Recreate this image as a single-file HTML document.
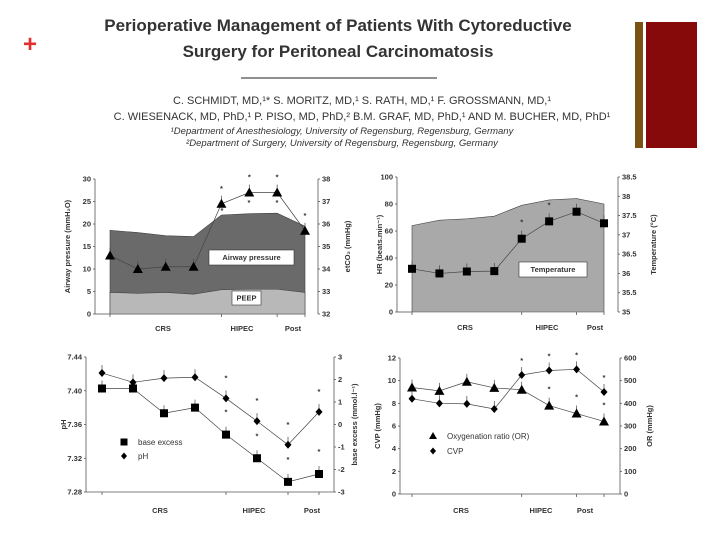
<!DOCTYPE html>
<html><head><meta charset="utf-8"><style>
body{margin:0;background:#fff}
svg{display:block}
text{font-family:"Liberation Sans",sans-serif}
.t{font-size:7.5px;font-weight:bold;fill:#333}
.ax{stroke:#555;stroke-width:0.8;fill:none}
</style></head><body>
<svg id="s" width="720" height="540" viewBox="0 0 720 540">
<rect width="720" height="540" fill="#fff"/>
<text x="30" y="52" font-size="24" font-weight="bold" fill="#e03030" text-anchor="middle">+</text>
<rect x="635" y="22" width="8" height="126" fill="#7a5312"/>
<rect x="646" y="22" width="51" height="126" fill="#870a0a"/>
<g font-size="17" fill="#333" text-anchor="middle" style="font-weight:bold">
<text x="338" y="31">Perioperative Management of Patients With Cytoreductive</text>
<text x="338" y="57">Surgery for Peritoneal Carcinomatosis</text></g>
<line x1="241" y1="78" x2="437" y2="78" stroke="#222" stroke-width="1"/>
<g font-size="11" fill="#333" text-anchor="middle">
<text x="362" y="104">C. SCHMIDT, MD,¹* S. MORITZ, MD,¹ S. RATH, MD,¹ F. GROSSMANN, MD,¹</text>
<text x="362" y="120">C. WIESENACK, MD, PhD,¹ P. PISO, MD, PhD,² B.M. GRAF, MD, PhD,¹ AND M. BUCHER, MD, PhD¹</text>
<text x="342" y="134" font-size="9.5" font-style="italic">¹Department of Anesthesiology, University of Regensburg, Regensburg, Germany</text>
<text x="342" y="146" font-size="9.5" font-style="italic">²Department of Surgery, University of Regensburg, Regensburg, Germany</text></g>
<g id="charts"></g>
</svg>
<script>
// Panel 1
const p1Airway=[18.6,18.1,17.4,17.2,22,22.3,22.4,19.5];
const p1Peep=[4.8,4.6,4.8,4.4,5.4,5.5,5.5,4.8];
const p1Etco2=[34.6,34.0,34.1,34.1,36.9,37.4,37.4,35.7];
const p1LeftTicks=[0,5,10,15,20,25,30];
const p1RightTicks=[32,33,34,35,36,37,38];
// Panel 2
const p2HR=[64,68,69,71,79,83,84,80];
const p2Temp=[36.12,36.0,36.05,36.06,36.9,37.35,37.6,37.3];
const p2LeftTicks=[0,20,40,60,80,100];
const p2RightTicks=[35,35.5,36,36.5,37,37.5,38,38.5];
// Panel 3
const p3PH=[7.421,7.410,7.415,7.416,7.391,7.364,7.336,7.375];
const p3BE=[1.6,1.6,0.5,0.75,-0.45,-1.5,-2.55,-2.2];
const p3LeftTicks=[7.28,7.32,7.36,7.40,7.44];
const p3RightTicks=[-3,-2,-1,0,1,2,3];
// Panel 4
const p4CVP=[8.4,8.0,7.95,7.5,10.5,10.9,11.0,9.0];
const p4OR=[470,455,495,468,460,390,355,320];
const p4LeftTicks=[0,2,4,6,8,10,12];
const p4RightTicks=[0,100,200,300,400,500,600];
const categories=["CRS","HIPEC","Post"];

const NS="http://www.w3.org/2000/svg";
const root=document.getElementById('charts');
function mk(tag,attrs,parent,txt){const e=document.createElementNS(NS,tag);for(const k in attrs)e.setAttribute(k,attrs[k]);if(txt!==undefined)e.textContent=txt;(parent||root).appendChild(e);return e;}
function lin(d0,d1,r0,r1){return v=>r0+(v-d0)*(r1-r0)/(d1-d0);}

function panel(o){
  const g=mk('g',{});
  
  
  const x=i=>o.x0+i*(o.x1-o.x0)/7;
  const yl=lin(o.lt[0],o.lt[o.lt.length-1],o.yb,o.yt);
  const yr=lin(o.rt[0],o.rt[o.rt.length-1],o.yb,o.yt);
  (o.areas||[]).forEach(a=>{
    let d='M'+x(0)+','+o.yb;a.vals.forEach((v,i)=>d+=' L'+x(i)+','+yl(v));d+=' L'+x(7)+','+o.yb+'Z';
    const p=mk('path',{d:d,fill:a.fill,stroke:'#444','stroke-width':0.6},g);
    
    
  });
  const la=mk('line',{x1:o.la,y1:o.yt,x2:o.la,y2:o.yb,class:'ax'},g);
  
  const ra=mk('line',{x1:o.ra,y1:o.yt,x2:o.ra,y2:o.yb,class:'ax'},g);
  
  mk('line',{x1:o.la,y1:o.yb,x2:o.bottomFull?o.ra:x(0),y2:o.yb,class:'ax'},g);
  [0,4,6,7].forEach(i=>mk('line',{x1:x(i),y1:o.yb,x2:x(i),y2:o.yb+3,class:'ax'},g));
  o.lt.forEach(v=>{mk('line',{x1:o.la-2,y1:yl(v),x2:o.la,y2:yl(v),class:'ax'},g);
    const t=mk('text',{x:o.la-4,y:yl(v)+2.5,class:'t','text-anchor':'end'},g,o.lf?o.lf(v):v);
    });
  o.rt.forEach(v=>{mk('line',{x1:o.ra,y1:yr(v),x2:o.ra+2,y2:yr(v),class:'ax'},g);
    const t=mk('text',{x:o.ra+4,y:yr(v)+2.5,class:'t'},g,v);
    });
  categories.forEach((c,i)=>{const t=mk('text',{x:o.cx[i],y:o.cy,class:'t','text-anchor':'middle'},g,c);
    });
  const lt=mk('text',{x:0,y:0,class:'t','text-anchor':'middle',transform:`translate(${o.ltx},${(o.yt+o.yb)/2}) rotate(-90)`},g,o.ltitle);
  
  const rtt=mk('text',{x:0,y:0,class:'t','text-anchor':'middle',transform:`translate(${o.rtx},${(o.yt+o.yb)/2}) rotate(-90)`},g,o.rtitle);
  
  o.series.forEach(s=>{
    const sy=s.axis==='r'?yr:yl;
    const pts=s.vals.map((v,i)=>x(i)+','+sy(v)).join(' ');
    const pl=mk('polyline',{points:pts,fill:'none',stroke:'#444','stroke-width':0.7},g);
    
    s.vals.forEach((v,i)=>{
      const cx=x(i),cy=sy(v);
      mk('line',{x1:cx,y1:cy,x2:cx,y2:cy-8,stroke:'#444','stroke-width':0.7},g);
      let m;
      if(s.mark==='sq')m=mk('rect',{x:cx-4,y:cy-4,width:8,height:8,fill:'#000'},g);
      else if(s.mark==='tri')m=mk('polygon',{points:`${cx},${cy-5} ${cx+5},${cy+4} ${cx-5},${cy+4}`,fill:'#000'},g);
      else m=mk('polygon',{points:`${cx},${cy-4} ${cx+3.5},${cy} ${cx},${cy+4} ${cx-3.5},${cy}`,fill:'#000'},g);
      
      
    });
    (s.stars||[]).forEach(i=>{const st=mk('text',{x:x(i),y:sy(s.vals[i])+(s.starOff||-12),class:'t','text-anchor':'middle','font-size':9},g,'*');
      });
  });
  (o.boxes||[]).forEach(b=>{
    const r=mk('rect',{x:b.x,y:b.y,width:b.w,height:b.h,fill:'#fff',stroke:'#333','stroke-width':0.6},g);
    
    mk('text',{x:b.x+b.w/2,y:b.y+b.h/2+2.5,class:'t','text-anchor':'middle'},g,b.text);
  });
  (o.legend||[]).forEach(l=>{
    const lg=mk('g',{},g);
    
    const cx=l.x,cy=l.y;
    if(l.mark==='sq')mk('rect',{x:cx-3.5,y:cy-3.5,width:7,height:7,fill:'#000'},lg);
    else if(l.mark==='tri')mk('polygon',{points:`${cx},${cy-4} ${cx+4},${cy+3} ${cx-4},${cy+3}`,fill:'#000'},lg);
    else mk('polygon',{points:`${cx},${cy-3.5} ${cx+3},${cy} ${cx},${cy+3.5} ${cx-3},${cy}`,fill:'#000'},lg);
    mk('text',{x:cx+14,y:cy+3,'font-size':8,fill:'#333'},lg,l.text);
  });
}

panel({name:'airway-etco2-chart',x0:110,x1:305,la:95,ra:318,yb:314,yt:179,lt:p1LeftTicks,rt:p1RightTicks,
  areas:[{vals:p1Airway,fill:'#6a6a6a',name:'airway-pressure-area'},{vals:p1Peep,fill:'#b8b8b8',name:'peep-area'}],
  series:[{name:'etco2',vals:p1Etco2,axis:'r',mark:'tri',stars:[4,5,6,7],starOff:-13}],
  boxes:[{x:209,y:250,w:85,h:15,text:'Airway pressure',name:'airway-pressure-label'},{x:232,y:291,w:29,h:14,text:'PEEP',name:'peep-label'}],
  cx:[163,242,293],cy:331,ltx:70,rtx:350,ltitle:'Airway pressure (mmH₂O)',rtitle:'etCO₂ (mmHg)'});
panel({name:'hr-temperature-chart',x0:412,x1:604,la:397,ra:618,yb:312,yt:177,lt:p2LeftTicks,rt:p2RightTicks,
  areas:[{vals:p2HR,fill:'#a9a9a9',name:'heart-rate-area'}],
  series:[{name:'temperature',vals:p2Temp,axis:'r',mark:'sq',stars:[4,5],starOff:-14}],
  boxes:[{x:519,y:262,w:68,h:15,text:'Temperature',name:'temperature-label'}],
  cx:[465,547,595],cy:330,ltx:382,rtx:656,ltitle:'HR (beats.min⁻¹)',rtitle:'Temperature (°C)'});
panel({name:'ph-base-excess-chart',x0:102,x1:319,la:86,ra:334,yb:492,yt:357,lt:p3LeftTicks,rt:p3RightTicks,bottomFull:true,
  lf:v=>v.toFixed(2),
  series:[{name:'base-excess',vals:p3BE,axis:'r',mark:'sq',stars:[4,5,6,7],starOff:-20},
          {name:'ph',vals:p3PH,axis:'l',mark:'dia',stars:[4,5,6,7],starOff:-18}],
  legend:[{x:124,y:442,mark:'sq',text:'base excess'},{x:124,y:456,mark:'dia',text:'pH'}],
  cx:[160,254,312],cy:513,ltx:66,rtx:357,ltitle:'pH',rtitle:'base excess (mmol.l⁻¹)'});
panel({name:'cvp-oxygenation-chart',x0:412,x1:604,la:400,ra:620,yb:494,yt:358,lt:p4LeftTicks,rt:p4RightTicks,bottomFull:true,
  series:[{name:'oxygenation-ratio',vals:p4OR,axis:'r',mark:'tri',stars:[5,6,7],starOff:-14},
          {name:'cvp',vals:p4CVP,axis:'l',mark:'dia',stars:[4,5,6,7],starOff:-12}],
  legend:[{x:433,y:436,mark:'tri',text:'Oxygenation ratio (OR)'},{x:433,y:451,mark:'dia',text:'CVP'}],
  cx:[461,541,585],cy:513,ltx:380,rtx:652,ltitle:'CVP (mmHg)',rtitle:'OR (mmHg)'});
[[222,213],[249,205],[277,205]].forEach(p=>{const t=mk('text',{x:p[0],y:p[1],class:'t','text-anchor':'middle','font-size':9},root,'*');
  
  });
</script>
</body></html>
